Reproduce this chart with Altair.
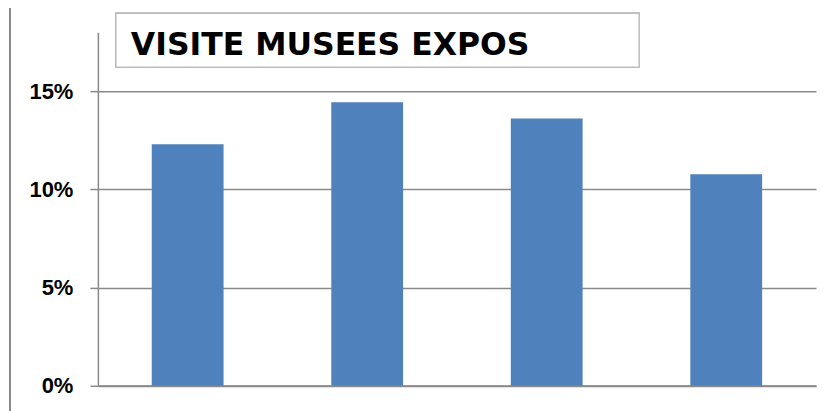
import altair as alt
import pandas as pd

categories = ["1", "2", "3", "4"]
values = [0.123, 0.1444, 0.1361, 0.1077]
title_text = "VISITE MUSEES EXPOS"
tick_values = [0, 0.05, 0.10, 0.15]

df = pd.DataFrame({"cat": categories, "val": values})

GRAY = "#8a8a8a"

bars = alt.Chart(df).mark_bar(color="#4F81BD").encode(
    x=alt.X("cat:N", sort=categories,
            scale=alt.Scale(paddingInner=0.6, paddingOuter=0.3),
            axis=alt.Axis(labels=False, ticks=False, title=None, domain=True,
                          domainColor=GRAY, domainWidth=2)),
    y=alt.Y("val:Q", scale=alt.Scale(domain=[0, 0.18], nice=False),
            axis=alt.Axis(values=tick_values, format=".0%", title=None,
                          grid=True, gridColor=GRAY, gridWidth=1.5,
                          domainColor=GRAY, domainWidth=1.5,
                          tickColor=GRAY, tickSize=8, tickWidth=1.5,
                          labelFont="Liberation Sans", labelFontWeight="bold",
                          labelFontSize=22, labelColor="#000000",
                          labelPadding=17)),
)

frame_left = alt.Chart(df).mark_rule(color=GRAY, strokeWidth=2).encode(
    x=alt.value(-88), y=alt.value(-29.5), y2=alt.value(400))
frame_top = alt.Chart(df).mark_rule(color=GRAY, strokeWidth=2).encode(
    x=alt.value(-88), x2=alt.value(740), y=alt.value(-29.5))

title_box = alt.Chart(df).mark_rect(fill="white", stroke="#bdbdbd", strokeWidth=1.5).encode(
    x=alt.value(18), x2=alt.value(542), y=alt.value(-19), y2=alt.value(35))

title = alt.Chart(pd.DataFrame({"t": [title_text]})).mark_text(
    font="DejaVu Sans", fontWeight="bold", fontSize=31.5, color="#000000",
    align="left", baseline="alphabetic").encode(
    x=alt.value(33), y=alt.value(23), text="t:N")

chart = alt.layer(bars, frame_left, frame_top, title_box, title).properties(
    width=719, height=354,
    autosize=alt.AutoSizeParams(type="none"),
    padding={"left": 90, "top": 24, "right": 6, "bottom": 30},
    background="white",
).configure_view(stroke=None)

chart.save("out.html", embed_options={"renderer": "svg", "actions": False})
